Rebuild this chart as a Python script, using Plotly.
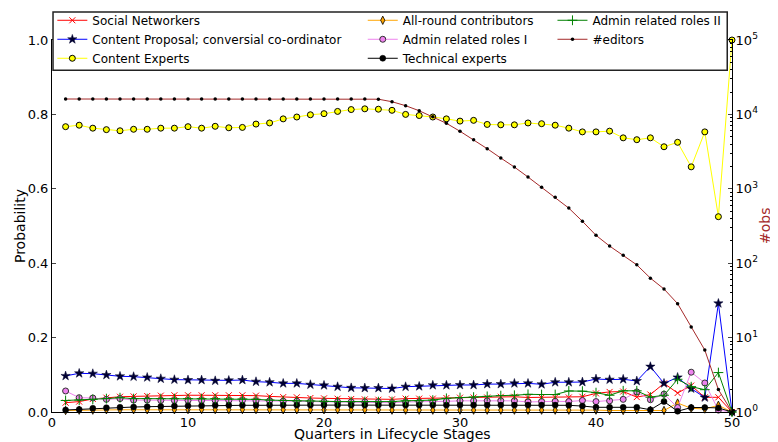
import plotly.graph_objects as go

quarters = list(range(1, 51))

social_networkers = [0.025, 0.028, 0.035, 0.0385, 0.041, 0.042, 0.043, 0.044, 0.045, 0.045,
                     0.045, 0.045, 0.045, 0.045, 0.044, 0.042, 0.040, 0.0395, 0.0376, 0.0367,
                     0.0358, 0.035, 0.034, 0.033, 0.034, 0.036, 0.036, 0.036, 0.0376, 0.0385,
                     0.039, 0.039, 0.041, 0.041, 0.039, 0.039, 0.039, 0.039, 0.041, 0.050,
                     0.054, 0.055, 0.040, 0.047, 0.077, 0.051, 0.071, 0.0395, 0.0395, 0.0]

content_proposal = [0.097, 0.104, 0.103, 0.0995, 0.096, 0.095, 0.093, 0.0896, 0.087, 0.086,
                    0.086, 0.084, 0.085, 0.086, 0.0815, 0.080, 0.077, 0.077, 0.0735, 0.0717,
                    0.068, 0.065, 0.0645, 0.0645, 0.063, 0.068, 0.069, 0.072, 0.072, 0.0726,
                    0.0726, 0.075, 0.075, 0.077, 0.077, 0.0745, 0.080, 0.080, 0.0806, 0.0887,
                    0.087, 0.088, 0.0833, 0.122, 0.077, 0.093, 0.063, 0.039, 0.292, 0.0]

content_experts = [0.767, 0.771, 0.763, 0.759, 0.756, 0.760, 0.760, 0.763, 0.763, 0.767,
                   0.763, 0.768, 0.764, 0.765, 0.774, 0.777, 0.788, 0.793, 0.799, 0.802,
                   0.808, 0.813, 0.815, 0.814, 0.811, 0.800, 0.797, 0.793, 0.788, 0.782,
                   0.784, 0.773, 0.772, 0.772, 0.777, 0.775, 0.771, 0.763, 0.753, 0.753,
                   0.755, 0.737, 0.732, 0.737, 0.713, 0.725, 0.659, 0.753, 0.525, 1.0]

all_round = [0.004, 0.005, 0.005, 0.006, 0.006, 0.006, 0.006, 0.006, 0.006, 0.0065,
             0.0065, 0.0065, 0.0065, 0.0065, 0.0065, 0.0065, 0.006, 0.006, 0.006, 0.006,
             0.006, 0.006, 0.006, 0.006, 0.005, 0.005, 0.005, 0.005, 0.005, 0.005,
             0.005, 0.005, 0.005, 0.005, 0.005, 0.005, 0.005, 0.005, 0.005, 0.005,
             0.004, 0.004, 0.006, 0.004, 0.004, 0.024, 0.010, 0.008, 0.018, 0.0]

admin_roles_1 = [0.0565, 0.0385, 0.0376, 0.034, 0.036, 0.032, 0.032, 0.031, 0.031, 0.031,
                 0.031, 0.031, 0.031, 0.031, 0.030, 0.030, 0.029, 0.029, 0.028, 0.0275,
                 0.0275, 0.027, 0.027, 0.027, 0.025, 0.027, 0.027, 0.027, 0.0287, 0.030,
                 0.030, 0.030, 0.030, 0.030, 0.027, 0.028, 0.0287, 0.028, 0.031, 0.028,
                 0.030, 0.034, 0.054, 0.033, 0.048, 0.012, 0.107, 0.078, 0.005, 0.0]

technical_experts = [0.0054, 0.007, 0.010, 0.0116, 0.0126, 0.0134, 0.0143, 0.015, 0.016, 0.017,
                     0.017, 0.018, 0.018, 0.018, 0.018, 0.0185, 0.0185, 0.0185, 0.0185, 0.0185,
                     0.0185, 0.0185, 0.0185, 0.0185, 0.0185, 0.0185, 0.0185, 0.0185, 0.0185, 0.0185,
                     0.0185, 0.0185, 0.0185, 0.0185, 0.0185, 0.0185, 0.0185, 0.0180, 0.016, 0.0126,
                     0.0126, 0.0126, 0.0126, 0.006, 0.028, 0.002, 0.012, 0.012, 0.011, 0.0]

admin_roles_2 = [0.031, 0.032, 0.034, 0.036, 0.0385, 0.036, 0.036, 0.036, 0.036, 0.036,
                 0.036, 0.036, 0.035, 0.035, 0.034, 0.032, 0.031, 0.0296, 0.0296, 0.0287,
                 0.028, 0.028, 0.028, 0.0278, 0.028, 0.030, 0.030, 0.032, 0.0367, 0.039,
                 0.040, 0.042, 0.044, 0.045, 0.0475, 0.047, 0.047, 0.0565, 0.056, 0.052,
                 0.045, 0.057, 0.057, 0.040, 0.045, 0.088, 0.068, 0.060, 0.106, 0.0]

editors = [16100, 16100, 16100, 16100, 16100, 16100, 16100, 16100, 16100, 16100,
           16100, 16100, 16100, 16100, 16100, 16100, 16100, 16100, 16100, 16100,
           16100, 16100, 16100, 16000, 14800, 13100, 11200, 9300, 7590, 5930,
           4570, 3460, 2590, 1960, 1440, 1050, 770, 550, 366, 237,
           170, 128, 95, 63, 45, 28.6, 13.9, 6.8, 2.0, 1.0]

x_ticks = [0, 10, 20, 30, 40, 50]
y_ticks = [0.0, 0.2, 0.4, 0.6, 0.8, 1.0]
y_tick_labels = ["0.0", "0.2", "0.4", "0.6", "0.8", "1.0"]
obs_ticks = [1, 10, 100, 1000, 10000, 100000]
obs_tick_labels = ["10<sup>0</sup>", "10<sup>1</sup>", "10<sup>2</sup>",
                   "10<sup>3</sup>", "10<sup>4</sup>", "10<sup>5</sup>"]
obs_minor_ticks = [m * 10 ** e for e in range(5) for m in range(2, 10)]

FONT = "DejaVu Sans"
fig = go.Figure()

def add(name, y, color, marker, legend, yaxis="y"):
    fig.add_trace(go.Scatter(
        x=quarters, y=y, name=name, mode="lines+markers",
        line=dict(color=color, width=1), marker=marker,
        legend=legend, yaxis=yaxis, cliponaxis=False))

add("Social Networkers", social_networkers, "red",
    dict(symbol="x-thin", size=6, color="red", line=dict(color="red", width=1)), "legend")
add("Content Proposal; conversial co-ordinator", content_proposal, "blue",
    dict(symbol="star", size=7, color="#000030", line=dict(color="#000030", width=0.5)), "legend")
add("Content Experts", content_experts, "#ffff00",
    dict(symbol="circle", size=6, color="#ffff00", line=dict(color="black", width=1)), "legend")
add("All-round contributors", all_round, "orange",
    dict(symbol="diamond-tall", size=6, color="orange", line=dict(color="black", width=0.8)), "legend2")
add("Admin related roles I", admin_roles_1, "violet",
    dict(symbol="circle", size=6, color="violet", line=dict(color="#333333", width=1)), "legend2")
add("Technical experts", technical_experts, "black",
    dict(symbol="circle", size=6, color="black", line=dict(color="black", width=0.5)), "legend2")
add("Admin related roles II", admin_roles_2, "green",
    dict(symbol="cross-thin", size=7, color="green", line=dict(color="green", width=1)), "legend3")
add("#editors", editors, "#a52a2a",
    dict(symbol="circle", size=3.5, color="black", line=dict(width=0)), "legend3", yaxis="y2")

legend_common = dict(bgcolor="rgba(0,0,0,0)", borderwidth=0,
                     font=dict(family=FONT, size=12, color="black"),
                     xanchor="left", yanchor="top", tracegroupgap=0,
                     itemwidth=30)

# the page body adds an 8px offset; figure is sized 770x434 so the plot area lands at
# screen x 52..732, y 40..412
fig.update_layout(
    width=770, height=434,
    margin=dict(l=44, r=46, t=32, b=30, autoexpand=False),
    paper_bgcolor="white", plot_bgcolor="white",
    font=dict(family=FONT, size=13, color="black"),
    xaxis=dict(range=[0, 50], tickvals=x_ticks, ticks="inside", ticklen=4,
               showline=True, linecolor="black", linewidth=1, mirror=True,
               showgrid=False, zeroline=False, tickfont=dict(size=13),
               ticklabelstandoff=-2),
    yaxis=dict(range=[0, 1.0], tickvals=y_ticks, ticktext=y_tick_labels,
               ticks="inside", ticklen=4, showline=True, linecolor="black",
               linewidth=1, showgrid=False, zeroline=False, tickfont=dict(size=13)),
    yaxis2=dict(type="log", range=[0, 5], overlaying="y", side="right",
                tickvals=obs_ticks, ticktext=obs_tick_labels, ticks="inside",
                ticklen=4, showline=True, linecolor="black", linewidth=1,
                showgrid=False, zeroline=False, tickfont=dict(size=13),
                minor=dict(tickvals=obs_minor_ticks, ticks="inside", ticklen=2,
                           tickcolor="black", showgrid=False)),
    legend=dict(x=0.0005, y=1.092, **legend_common),
    legend2=dict(x=0.457, y=1.092, **legend_common),
    legend3=dict(x=0.736, y=1.092, **legend_common),
    shapes=[dict(type="rect", xref="paper", yref="paper", x0=0.0015, x1=0.993,
                 y0=0.919, y1=1.075, fillcolor="white",
                 line=dict(color="#222222", width=1.5), layer="above")],
    annotations=[
        dict(text="Quarters in Lifecycle Stages", xref="paper", yref="paper",
             x=0.5, y=-0.059, xanchor="center", yanchor="middle", showarrow=False,
             font=dict(size=14)),
        dict(text="Probability", xref="paper", yref="paper", x=-0.047, y=0.5,
             textangle=-90, xanchor="center", yanchor="middle", showarrow=False,
             font=dict(size=14)),
        dict(text="#obs", xref="paper", yref="paper", x=1.0485, y=0.5,
             textangle=-90, xanchor="center", yanchor="middle", showarrow=False,
             font=dict(size=14, color="#a52a2a")),
    ],
)

fig.write_html("out.html")
